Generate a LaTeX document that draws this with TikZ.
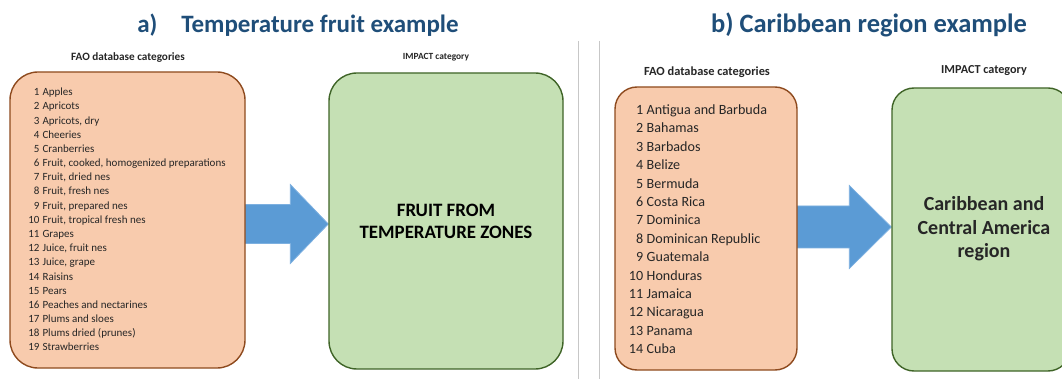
\documentclass[tikz,border=0pt]{standalone}
\usepackage{fontspec}
\setmainfont{Carlito}
\usetikzlibrary{calc, positioning, backgrounds}

\definecolor{titleblue}{HTML}{1F4E79}
\definecolor{faofill}{HTML}{F8CBAD}
\definecolor{faoedge}{HTML}{8E4A1E}
\definecolor{impfill}{HTML}{C5E0B4}
\definecolor{impedge}{HTML}{3F6427}
\definecolor{arrowblue}{HTML}{5B9BD5}
\definecolor{arrowedge}{HTML}{7DB0E0}
\definecolor{listtext}{HTML}{262626}

\begin{document}
\begin{tikzpicture}[
  x=1pt, y=-1pt,
  title/.style={font=\fontsize{25}{28}\selectfont\bfseries, text=titleblue},
  header/.style={font=\fontsize{9.5}{11}\selectfont\bfseries, text=listtext},
  faobox/.style={draw=faoedge, fill=faofill, line width=1.4pt, rounded corners=28pt},
  impbox/.style={draw=impedge, fill=impfill, line width=1.4pt, rounded corners=28pt},
  bigarrow/.style={fill=arrowblue, draw=arrowedge, line width=0.8pt},
  divider/.style={draw=black!22, line width=0.8pt}
]
\clip (0,0) rectangle (1062,379);
\useasboundingbox (0,0) rectangle (1062,379);

% Titles
\node[title] (titleA) at (298,25) {a)\hspace{24pt}Temperature fruit example};
\node[title, font=\fontsize{26.5}{30}\selectfont\bfseries] (titleB) at (869,25) {b) Caribbean region example};

% Dividers
\draw[divider] (578,41) -- (578,379);
\draw[divider] (599,41) -- (599,379);

% a) Temperature fruit
\node[header, font=\fontsize{11.2}{13}\selectfont\bfseries] (hfaoA) at (128,58) {FAO database categories};
\node[header, font=\fontsize{9.4}{11}\selectfont\bfseries] (himpA) at (436,57) {IMPACT category};

\node[faobox, minimum width=235pt, minimum height=296pt] (faoA) at (127.5,220) {};
\node[impbox, minimum width=234pt, minimum height=296pt] (impA) at (446,221) {};

\node[font=\fontsize{11}{14.17}\selectfont, text=listtext, inner sep=0pt] (listA) at (127,220.5) {%
\begin{tabular}{@{}r@{\hspace{3pt}}l@{}}
1 & Apples\\
2 & Apricots\\
3 & Apricots, dry\\
4 & Cheeries\\
5 & Cranberries\\
6 & Fruit, cooked, homogenized preparations\\
7 & Fruit, dried nes\\
8 & Fruit, fresh nes\\
9 & Fruit, prepared nes\\
10 & Fruit, tropical fresh nes\\
11 & Grapes\\
12 & Juice, fruit nes\\
13 & Juice, grape\\
14 & Raisins\\
15 & Pears\\
16 & Peaches and nectarines\\
17 & Plums and sloes\\
18 & Plums dried (prunes)\\
19 & Strawberries
\end{tabular}};

\node[align=center, font=\fontsize{18.9}{22}\selectfont\bfseries, text=black] (txtA) at (446,221) {FRUIT FROM\\TEMPERATURE ZONES};

\coordinate (tipA) at ($(impA.west)+(0,3)$);
\coordinate (tailA) at ($(faoA.east |- tipA)+(-12,0)$);
\begin{scope}[on background layer]
\draw[bigarrow] (tipA) -- ++(-38,-39.5) -- ++(0,20) -- ($(tailA)+(0,-19.5)$)
  -- ($(tailA)+(0,19.5)$) -- ($(tipA)+(-38,19.5)$) -- ++(0,20) -- cycle;
\end{scope}

% b) Caribbean region
\node[header, font=\fontsize{12.4}{14}\selectfont\bfseries] (hfaoB) at (707,72) {FAO database categories};
\node[header, font=\fontsize{12.2}{14}\selectfont\bfseries] (himpB) at (984,71) {IMPACT category};

\node[faobox, rounded corners=22pt, minimum width=182pt, minimum height=283pt] (faoB) at (706,228.5) {};
\node[impbox, rounded corners=22pt, minimum width=178pt, minimum height=283pt] (impB) at (981,229.5) {};

\node[font=\fontsize{14.1}{18.4}\selectfont, text=listtext, inner sep=0pt] (listB) at (698,230.5) {%
\begin{tabular}{@{}r@{\hspace{3.5pt}}l@{}}
1 & Antigua and Barbuda\\
2 & Bahamas\\
3 & Barbados\\
4 & Belize\\
5 & Bermuda\\
6 & Costa Rica\\
7 & Dominica\\
8 & Dominican Republic\\
9 & Guatemala\\
10 & Honduras\\
11 & Jamaica\\
12 & Nicaragua\\
13 & Panama\\
14 & Cuba
\end{tabular}};

\node[align=center, font=\fontsize{20}{23.5}\selectfont\bfseries, text=listtext] (txtB) at (984,229) {Caribbean and\\Central America\\region};

\coordinate (tipB) at ($(impB.west)+(0,-2.5)$);
\coordinate (tailB) at ($(faoB.east |- tipB)+(-12,0)$);
\begin{scope}[on background layer]
\draw[bigarrow] (tipB) -- ++(-42,-41.5) -- ++(0,20.5) -- ($(tailB)+(0,-21)$)
  -- ($(tailB)+(0,21)$) -- ($(tipB)+(-42,21)$) -- ++(0,20.5) -- cycle;
\end{scope}

\end{tikzpicture}
\end{document}
